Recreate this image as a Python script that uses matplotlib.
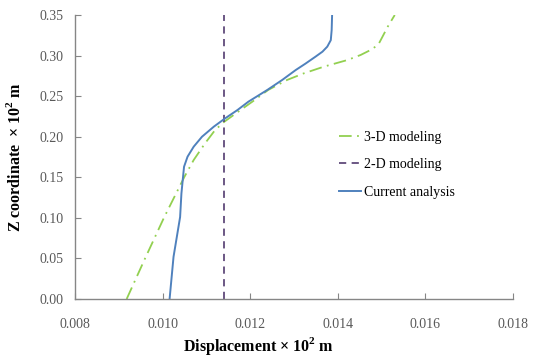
import matplotlib
matplotlib.use('Agg')
import matplotlib.pyplot as plt

# Data
z_current = [0.0, 0.052, 0.101, 0.130, 0.1467, 0.163, 0.1754, 0.1877, 0.200, 0.2124,
             0.2227, 0.2329, 0.2432, 0.2576, 0.2699, 0.2822, 0.290, 0.2986, 0.3048,
             0.311, 0.319, 0.3315, 0.35]
x_current = [0.01016, 0.01025, 0.01040, 0.01043, 0.01046, 0.01049, 0.01057, 0.01071,
             0.01090, 0.01117, 0.01143, 0.01171, 0.01196, 0.01239, 0.01273, 0.01304,
             0.01326, 0.01349, 0.01365, 0.01376, 0.01384, 0.01386, 0.01387]

z_3d = [0.0, 0.05, 0.10, 0.1507, 0.1713, 0.1919, 0.2083, 0.2185, 0.2329, 0.2432,
        0.2576, 0.2699, 0.278, 0.2863, 0.2945, 0.3007, 0.3069, 0.311, 0.315,
        0.3232, 0.3356, 0.35]
x_3d = [0.00918, 0.00960, 0.01003, 0.01050, 0.01071, 0.01097, 0.01120, 0.01141,
        0.01178, 0.01205, 0.01241, 0.01284, 0.01322, 0.01368, 0.01422, 0.01452,
        0.01475, 0.01486, 0.01494, 0.01502, 0.01514, 0.01530]

z_2d = [0.0, 0.35]
x_2d = [0.01141, 0.01141]

x_ticks = [0.008, 0.010, 0.012, 0.014, 0.016, 0.018]
y_ticks = [0.00, 0.05, 0.10, 0.15, 0.20, 0.25, 0.30, 0.35]

plt.rcParams['font.family'] = ['Liberation Serif', 'DejaVu Serif']

fig = plt.figure(figsize=(5.34, 3.63), dpi=100)
ax = fig.add_axes([0.1404, 0.1763, 0.8203, 0.7824])

ax.plot(x_3d, z_3d, color='#92D050', lw=1.3, dashes=(7, 3, 1, 3), label='3-D modeling')
ax.plot(x_2d, z_2d, color='#604A7B', lw=1.3, dashes=(4, 3), label='2-D modeling')
ax.plot(x_current, z_current, color='#4F81BD', lw=1.4, label='Current analysis')

ax.set_xlim(0.008, 0.018)
ax.set_ylim(0.0, 0.35)
ax.set_xticks(x_ticks)
ax.set_yticks(y_ticks)
ax.set_xticklabels([f'{v:.3f}' for v in x_ticks])
ax.set_yticklabels([f'{v:.2f}' for v in y_ticks])

for s in ['top', 'right']:
    ax.spines[s].set_visible(False)
for s in ['left', 'bottom']:
    ax.spines[s].set_color('#868686')
    ax.spines[s].set_linewidth(1.0)

ax.tick_params(axis='both', direction='in', length=4, color='#868686',
               labelsize=10, labelcolor='#595959')
ax.tick_params(axis='x', pad=14)
ax.tick_params(axis='y', pad=8)

fig.text(258 / 534, 1 - 346 / 363, 'Displacement \u00d7 10$^{\\mathregular{2}}$ m',
         ha='center', va='center', fontsize=11.5, fontweight='bold')
fig.text(15 / 534, 1 - 157 / 363, 'Z coordinate  \u00d7 10$^{\\mathregular{2}}$ m',
         ha='center', va='center', rotation=90, fontsize=11.5, fontweight='bold')

leg = ax.legend(loc='upper left', bbox_to_anchor=(326 / 534, 1 - 118 / 363),
                bbox_transform=fig.transFigure, frameon=False, fontsize=10,
                handlelength=1.6, handletextpad=0.2, labelspacing=1.05)

fig.savefig('out.png', dpi=100)
